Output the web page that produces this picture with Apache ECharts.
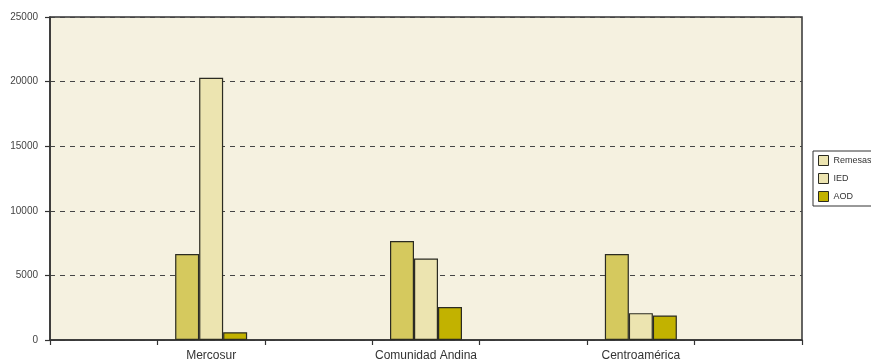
<!DOCTYPE html>
<html><head><meta charset="utf-8">
<script src="https://cdn.jsdelivr.net/npm/echarts@6/dist/echarts.min.js"></script>
<style>html,body{margin:0;padding:0;background:#fff}#c{width:871px;height:364px}</style>
</head><body><div id="c"></div>
<script>
const categories = ["", "Mercosur", "", "Comunidad Andina", "", "Centroamérica", ""];
const remesas = [null, 6650, null, 7660, null, 6650, null];
const ied = [null, 20300, null, 6300, null, 2080, null];
const aod = [null, 600, null, 2550, null, 1900, null];
const yTicks = [0, 5000, 10000, 15000, 20000, 25000];

const chart = echarts.init(document.getElementById('c'));
const font = 'Liberation Sans';
const barStyle = c => ({color: c, borderColor: '#2b2b22', borderWidth: 1.2});
chart.setOption({
  animation: false,
  textStyle: {fontFamily: font},
  grid: {left: 50, right: 69, top: 17, bottom: 24, show: true, backgroundColor: '#f5f1e0', borderColor: '#333', borderWidth: 1.5},
  legend: {
    orient: 'vertical', left: 813, top: 151, itemWidth: 10, itemHeight: 10, itemGap: 7, icon: 'rect',
    padding: [4, 8, 4, 5], borderColor: '#333', borderWidth: 1, backgroundColor: '#fff',
    textStyle: {fontSize: 9, color: '#333', fontFamily: font},
    data: [
      {name: 'Remesas', itemStyle: {color: '#ece4b0', borderColor: '#2b2b22', borderWidth: 1}},
      {name: 'IED', itemStyle: {color: '#ece4b0', borderColor: '#2b2b22', borderWidth: 1}},
      {name: 'AOD', itemStyle: {color: '#c2b200', borderColor: '#2b2b22', borderWidth: 1}}
    ]
  },
  xAxis: {
    type: 'category', data: categories,
    axisLine: {lineStyle: {color: '#333', width: 1.5}},
    axisTick: {show: true, length: 5, interval: 0, lineStyle: {color: '#333', width: 1.2}},
    axisLabel: {color: '#333', fontSize: 12, margin: 10, interval: 0, fontFamily: font}
  },
  yAxis: {
    type: 'value', min: yTicks[0], max: yTicks[yTicks.length - 1], interval: 5000,
    axisLine: {show: true, lineStyle: {color: '#333', width: 1.5}},
    axisTick: {show: true, length: 5, lineStyle: {color: '#333', width: 1.2}},
    axisLabel: {color: '#444', fontSize: 10, margin: 12, fontFamily: font, formatter: v => String(v)},
    splitLine: {show: true, lineStyle: {color: '#444', type: [5, 5], width: 1}}
  },
  series: [
    {name: 'Remesas', type: 'bar', data: remesas, barWidth: 24, barGap: '0%', itemStyle: barStyle('#d5c95e')},
    {name: 'IED', type: 'bar', data: ied, barWidth: 24, barGap: '0%', itemStyle: barStyle('#ece4b0')},
    {name: 'AOD', type: 'bar', data: aod, barWidth: 24, barGap: '0%', itemStyle: barStyle('#c2b200')}
  ]
});
</script></body></html>
